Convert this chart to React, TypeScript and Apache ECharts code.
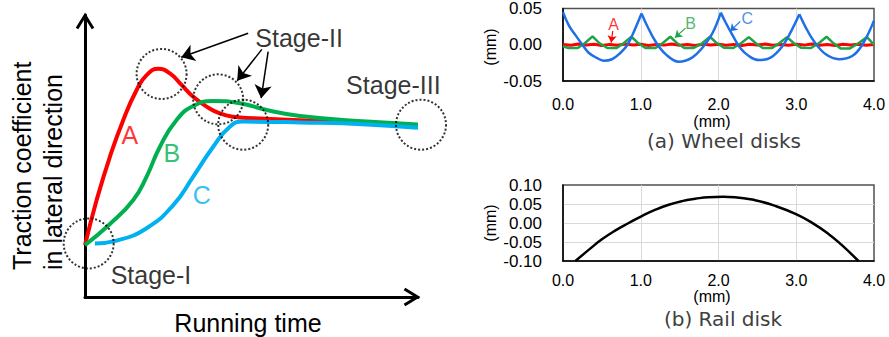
import { useEffect, useRef } from "react";
import * as echarts from "echarts";

// ---------- Left schematic (arbitrary units 0..100) ----------
const curveA = [[0, 18.4], [3.5, 34.4], [7.5, 49.8], [11.5, 62.8], [15.5, 73.4], [18.5, 78.7], [22.0, 80.9], [25.5, 79.3], [29.0, 75.2], [32.5, 71.0], [36.5, 67.5], [40.5, 65.1], [44.5, 63.9], [50.5, 63.4], [74.6, 62.2], [100, 60.6]];
const curveB = [[0, 18.4], [7.5, 25.9], [14.5, 34.4], [18.5, 42.7], [22.5, 53.3], [27.5, 62.8], [32.5, 67.7], [38.5, 69.5], [46.5, 68.7], [54.6, 66.3], [64.6, 64.2], [84.6, 62.2], [100, 61.2]];
const curveC = [[3.0, 19.0], [9.5, 20.0], [18.5, 24.4], [26.5, 32.6], [32.5, 42.7], [38.5, 53.3], [43.5, 60.4], [47.5, 62.2], [64.6, 61.9], [84.6, 61.2], [100, 60.0]];
const curveNames = ["A", "B", "C"];
const curveLabelPos = [[13.5, 57.4], [26.1, 51.1], [35.1, 36.2]];
const stageCircles = [[23.0, 79.1], [40.0, 70.1], [47.5, 61.1], [100.9, 61.1], [1.1, 19.0]];
const stageNames = ["Stage-II", "Stage-III", "Stage-I"];
const stageLabelPos = [[64.3, 92.0], [92.6, 75.2], [19.8, 7.8]];
const stageArrows = [[[49.0, 93.5], [28.9, 85.0]], [[53.1, 87.8], [45.7, 76.7]], [[55.0, 87.0], [52.9, 70.5]]];

// ---------- (a) Wheel disks ----------
const wheelC = [[0, 0.045], [0.075, 0.0266], [0.16, 0.0133], [0.25, 0.0], [0.33, -0.011], [0.44, -0.0185], [0.52, -0.022], [0.63, -0.02], [0.74, -0.011], [0.83, 0.0], [0.91, 0.0177], [1.01, 0.043],
  [1.08, 0.0266], [1.19, 0.0045], [1.32, -0.013], [1.49, -0.0234], [1.66, -0.0177], [1.79, -0.0045], [1.92, 0.0155], [2.03, 0.0443],
  [2.09, 0.031], [2.18, 0.0133], [2.28, -0.0045], [2.39, -0.0155], [2.52, -0.0212], [2.67, -0.0177], [2.82, -0.0022], [2.93, 0.0177], [3.04, 0.042],
  [3.12, 0.0244], [3.23, 0.0045], [3.38, -0.0132], [3.55, -0.0199], [3.72, -0.0155], [3.85, 0.0], [4.0, 0.0333]];
const wheelB = [[0, -0.002], [0.07, -0.0045], [0.19, -0.0045], [0.28, 0.002], [0.38, 0.0115], [0.47, 0.002],
  [0.57, -0.0045], [0.69, -0.0045], [0.78, 0.002], [0.88, 0.011], [0.97, 0.002],
  [1.06, -0.0045], [1.19, -0.0045], [1.28, 0.002], [1.38, 0.011], [1.47, 0.002],
  [1.56, -0.0045], [1.68, -0.0045], [1.79, 0.002], [1.89, 0.011], [1.98, 0.002],
  [2.07, -0.004], [2.19, -0.0045], [2.29, 0.002], [2.39, 0.0105], [2.48, 0.002],
  [2.57, -0.0045], [2.69, -0.0045], [2.78, 0.002], [2.88, 0.0105], [2.97, 0.002],
  [3.06, -0.004], [3.19, -0.0045], [3.29, 0.002], [3.39, 0.011], [3.48, 0.002],
  [3.57, -0.005], [3.69, -0.005], [3.8, 0.002], [3.91, 0.0105], [4.0, 0.0]];
const wheelA = [[0, 0.0004], [0.1, -0.0008], [0.2, 0.0009], [0.3, -0.0004], [0.4, 0.0006], [0.5, -0.001], [0.6, 0.0005], [0.7, -0.0006], [0.8, 0.001], [0.9, -0.0003],
  [1.0, 0.0007], [1.1, -0.0009], [1.2, 0.0004], [1.3, -0.0005], [1.4, 0.0009], [1.5, -0.0007], [1.6, 0.0003], [1.7, -0.001], [1.8, 0.0006], [1.9, -0.0004],
  [2.0, 0.0008], [2.1, -0.0006], [2.2, 0.0005], [2.3, -0.0009], [2.4, 0.0007], [2.5, -0.0003], [2.6, 0.0009], [2.7, -0.0007], [2.8, 0.0004], [2.9, -0.0008],
  [3.0, 0.0006], [3.1, -0.0005], [3.2, 0.001], [3.3, -0.0006], [3.4, 0.0003], [3.5, -0.0009], [3.6, 0.0007], [3.7, -0.0004], [3.8, 0.0008], [3.9, -0.0006], [4.0, 0.0004]];
const wheelNames = ["A", "B", "C"];
const wheelLabelPos = [[0.65, 0.0284], [1.64, 0.0297], [2.37, 0.0367]];
const wheelArrows = [[[0.64, 0.019], [0.62, 0.003]], [[1.575, 0.023], [1.44, 0.0098]], [[2.28, 0.0323], [2.15, 0.0187]]];

// ---------- (b) Rail disk ----------
const rail = [[0.16, -0.1], [0.33, -0.0708], [0.5, -0.043], [0.67, -0.02], [0.845, 0.0], [1.02, 0.019], [1.19, 0.035], [1.36, 0.048], [1.53, 0.0575], [1.7, 0.0637], [1.87, 0.068], [2.06, 0.069], [2.21, 0.068], [2.47, 0.06], [2.73, 0.045], [2.99, 0.024], [3.2, 0.001], [3.41, -0.028], [3.58, -0.057], [3.8, -0.1]];

const schemColors = ["#FF0000", "#00B050", "#00B0F0"];
const wheelColors = ["#FF0000", "#1FA34A", "#1F6FE6"];
const FONT = "Liberation Sans";

// split a cusped profile into arcs at its local maxima, so each arc can be smoothed
function splitAtPeaks(d: number[][]) {
  const out: number[][][] = [];
  let cur: number[][] = [d[0]];
  for (let i = 1; i < d.length; i++) {
    cur.push(d[i]);
    const isPeak = i < d.length - 1 && d[i][1] > d[i - 1][1] && d[i][1] > d[i + 1][1];
    if (isPeak) { out.push(cur); cur = [d[i]]; }
  }
  out.push(cur);
  return out;
}

export default function App() {
  const ref = useRef<HTMLDivElement>(null);
  useEffect(() => {
    document.body.style.margin = "0";
    const chart = echarts.init(ref.current!, null, { renderer: "svg" });
    const tickLabel = (m: number, digits: number, fs: number) => ({
      margin: m, fontSize: fs, color: "#000", fontFamily: FONT,
      formatter: (v: number) => v.toFixed(digits),
    });
    const split = { show: true, showMinLine: false, showMaxLine: false, lineStyle: { color: "#d9d9d9", width: 1 } };
    const blackLine = { show: true, onZero: false, lineStyle: { color: "#000", width: 1.5 } };
    const option: any = {
      animation: false,
      grid: [
        { left: 85, top: 15, width: 333, height: 282 },
        { left: 563, top: 6, width: 311, height: 75, show: true, borderColor: "#505050", borderWidth: 1.5 },
        { left: 563, top: 185, width: 311, height: 76, show: true, borderColor: "#505050", borderWidth: 1.5 },
      ],
      xAxis: [
        { gridIndex: 0, type: "value", min: 0, max: 100, axisLine: { show: true, onZero: false, lineStyle: { color: "#000", width: 3 } }, axisTick: { show: false }, axisLabel: { show: false }, splitLine: { show: false } },
        { gridIndex: 1, type: "value", min: 0, max: 4, interval: 1, axisLine: blackLine, axisTick: { show: false }, axisLabel: tickLabel(15, 1, 16), splitLine: split },
        { gridIndex: 2, type: "value", min: 0, max: 4, interval: 1, axisLine: blackLine, axisTick: { show: false }, axisLabel: tickLabel(11, 1, 16), splitLine: split },
      ],
      yAxis: [
        { gridIndex: 0, type: "value", min: 0, max: 100, axisLine: { show: true, onZero: false, lineStyle: { color: "#000", width: 3 } }, axisTick: { show: false }, axisLabel: { show: false }, splitLine: { show: false } },
        { gridIndex: 1, type: "value", min: -0.05, max: 0.05, interval: 0.05, axisLine: blackLine, axisTick: { show: false }, axisLabel: tickLabel(21, 2, 17), splitLine: split },
        { gridIndex: 2, type: "value", min: -0.1, max: 0.1, interval: 0.05, axisLine: blackLine, axisTick: { show: false }, axisLabel: tickLabel(21, 2, 17), splitLine: split },
      ],
      series: [
        ...[curveA, curveB, curveC].map((d, i) => ({
          type: "line", xAxisIndex: 0, yAxisIndex: 0, data: d, smooth: true, symbol: "none",
          lineStyle: { color: schemColors[i], width: 4 }, z: 3,
        })),
        {
          type: "scatter", xAxisIndex: 0, yAxisIndex: 0, data: stageCircles, symbol: "circle", symbolSize: 50, clip: false,
          itemStyle: { color: "rgba(0,0,0,0)", borderColor: "#000", borderWidth: 2, borderType: "dotted" }, z: 4, silent: true,
          markLine: {
            silent: true, symbol: ["none", "arrow"], symbolSize: 13, label: { show: false },
            lineStyle: { color: "#000", width: 1.5, type: "solid" },
            data: stageArrows.map(([s, e]) => [{ coord: s }, { coord: e }]),
          },
        },
        {
          type: "scatter", xAxisIndex: 0, yAxisIndex: 0, symbolSize: 0, clip: false, silent: true,
          data: curveNames.map((n, i) => ({ name: n, value: curveLabelPos[i], label: { color: schemColors[i] } })),
          label: { show: true, position: "inside", formatter: "{b}", fontSize: 25, fontFamily: FONT },
        },
        {
          type: "scatter", xAxisIndex: 0, yAxisIndex: 0, symbolSize: 0, clip: false, silent: true,
          data: stageNames.map((n, i) => ({ name: n, value: stageLabelPos[i] })),
          label: { show: true, position: "inside", formatter: "{b}", fontSize: 25, color: "#000", fontFamily: FONT },
        },
        // (a)
        {
          type: "line", xAxisIndex: 1, yAxisIndex: 1, data: wheelA, symbol: "none",
          lineStyle: { color: wheelColors[0], width: 3 }, z: 2,
        },
        {
          type: "line", xAxisIndex: 1, yAxisIndex: 1, data: wheelB, symbol: "none",
          lineStyle: { color: wheelColors[1], width: 2.5 }, z: 3,
        },
        ...splitAtPeaks(wheelC).map((arc, k) => ({
          type: "line", xAxisIndex: 1, yAxisIndex: 1, data: arc, symbol: "none", smooth: 0.4,
          lineStyle: { color: wheelColors[2], width: 2.5 }, z: 4,
          ...(k === 0 ? {
            markLine: {
              silent: true, symbol: ["none", "arrow"], symbolSize: 7, label: { show: false },
              lineStyle: { width: 1.2, type: "solid" },
              data: wheelArrows.map(([s, e], i) => [{ coord: s, lineStyle: { color: wheelColors[i], width: 1.2, type: "solid" } }, { coord: e }]),
            },
          } : {}),
        })),
        {
          type: "scatter", xAxisIndex: 1, yAxisIndex: 1, symbolSize: 0, clip: false, silent: true,
          data: wheelNames.map((n, i) => ({ name: n, value: wheelLabelPos[i], label: { color: wheelColors[i] } })),
          label: { show: true, position: "inside", formatter: "{b}", fontSize: 16, fontFamily: FONT },
        },
        // (b)
        {
          type: "line", xAxisIndex: 2, yAxisIndex: 2, data: rail, smooth: true, symbol: "none",
          lineStyle: { color: "#000", width: 2.5 },
        },
      ],
      graphic: [
        { type: "polyline", shape: { points: [[77, 28.5], [85, 15.5], [93, 28.5]] }, style: { stroke: "#000", lineWidth: 3, fill: null } },
        { type: "polyline", shape: { points: [[404.5, 289], [417.5, 297], [404.5, 305]] }, style: { stroke: "#000", lineWidth: 3, fill: null } },
        { type: "text", x: 22, y: 270, rotation: Math.PI / 2, style: { text: "Traction coefficient", fontSize: 25, fontFamily: FONT, fill: "#000", align: "left", verticalAlign: "middle" } },
        { type: "text", x: 53, y: 270, rotation: Math.PI / 2, style: { text: "in lateral direction", fontSize: 25, fontFamily: FONT, fill: "#000", align: "left", verticalAlign: "middle" } },
        { type: "text", x: 248, y: 323, style: { text: "Running time", fontSize: 25, fontFamily: FONT, fill: "#000", align: "center", verticalAlign: "middle" } },
        { type: "text", x: 490, y: 47, rotation: Math.PI / 2, style: { text: "(mm)", fontSize: 16, fontFamily: FONT, fill: "#000", align: "center", verticalAlign: "middle" } },
        { type: "text", x: 490, y: 223, rotation: Math.PI / 2, style: { text: "(mm)", fontSize: 16, fontFamily: FONT, fill: "#000", align: "center", verticalAlign: "middle" } },
        { type: "text", x: 712, y: 121, style: { text: "(mm)", fontSize: 16, fontFamily: FONT, fill: "#000", align: "center", verticalAlign: "middle" } },
        { type: "text", x: 712, y: 296, style: { text: "(mm)", fontSize: 16, fontFamily: FONT, fill: "#000", align: "center", verticalAlign: "middle" } },
        { type: "text", x: 724, y: 141, style: { text: "(a) Wheel disks", fontSize: 20, fontFamily: "DejaVu Sans", fill: "#404040", align: "center", verticalAlign: "middle" } },
        { type: "text", x: 723, y: 319, style: { text: "(b) Rail disk", fontSize: 20, fontFamily: "DejaVu Sans", fill: "#404040", align: "center", verticalAlign: "middle" } },
      ],
    };
    chart.setOption(option);
    return () => chart.dispose();
  }, []);
  return <div ref={ref} style={{ width: 889, height: 337 }} />;
}
